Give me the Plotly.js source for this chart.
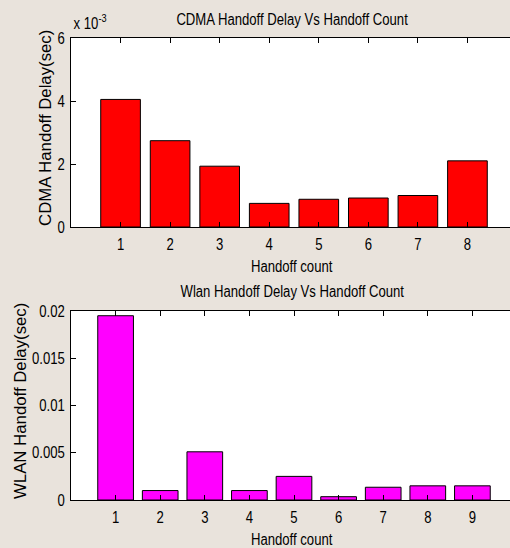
<!DOCTYPE html>
<html>
<head>
<meta charset="utf-8">
<script src="https://cdn.plot.ly/plotly-3.0.1.min.js"></script>
<style>
  html, body { margin: 0; padding: 0; overflow: hidden; background: #e9e3dc; }
  #chart { width: 520px; height: 548px; }
</style>
</head>
<body>
<div id="chart"></div>
<script>
// Handoff counts and measured delays (seconds)
const cdmaCount = [1, 2, 3, 4, 5, 6, 7, 8];
const cdmaDelay = [0.00405, 0.00274, 0.00193, 0.00075, 0.00088, 0.00092, 0.00100, 0.00210];

const wlanCount = [1, 2, 3, 4, 5, 6, 7, 8, 9];
const wlanDelay = [0.0195, 0.0010, 0.0051, 0.0010, 0.0025, 0.00035, 0.00135, 0.0015, 0.0015];

const cdmaYTicks = [0, 0.002, 0.004, 0.006];
const cdmaYLabels = ['0', '2', '4', '6'];
const wlanYTicks = [0, 0.005, 0.01, 0.015, 0.02];
const wlanYLabels = ['0', '0.005', '0.01', '0.015', '0.02'];

const FONT = '"Liberation Sans", Arial, sans-serif';

// figure geometry (pixels)
const W = 520, H = 548;
const M = { l: 71, r: 3, t: 38, b: 48 };
const plotW = W - M.l - M.r;
const plotH = H - M.t - M.b;
const px = x => (x - M.l) / plotW;
const py = y => (H - M.b - y) / plotH;

const axisBase = {
  showline: true, linecolor: '#000', linewidth: 1, mirror: 'ticks',
  ticks: 'inside', ticklen: 5, tickcolor: '#000', tickwidth: 1,
  showgrid: false, zeroline: false, fixedrange: true,
  tickfont: { family: FONT, size: 16, color: '#000' }
};

const traces = [
  {
    type: 'bar', x: cdmaCount, y: cdmaDelay, width: 0.8,
    marker: { color: '#ff0000', line: { color: '#000', width: 1 } },
    xaxis: 'x', yaxis: 'y', hoverinfo: 'x+y'
  },
  {
    type: 'bar', x: wlanCount, y: wlanDelay, width: 0.8,
    marker: { color: '#ff00ff', line: { color: '#000', width: 1 } },
    xaxis: 'x2', yaxis: 'y2', hoverinfo: 'x+y'
  }
];

const txt = (text, x, y, opts) => Object.assign({
  text, xref: 'paper', yref: 'paper', x: px(x), y: py(y),
  xanchor: 'center', yanchor: 'middle', showarrow: false,
  font: { family: FONT, size: 16, color: '#000' }
}, opts || {});

const layout = {
  width: W, height: H,
  margin: M,
  paper_bgcolor: '#e9e3dc',
  plot_bgcolor: '#ffffff',
  showlegend: false,
  xaxis: Object.assign({}, axisBase, {
    domain: [0, 1], anchor: 'y', range: [0, 9],
    tickvals: cdmaCount, ticklabelstandoff: 3
  }),
  yaxis: Object.assign({}, axisBase, {
    domain: [py(227), 1], anchor: 'x', range: [0, 0.006],
    tickvals: cdmaYTicks, ticktext: cdmaYLabels, ticklabelstandoff: 2
  }),
  xaxis2: Object.assign({}, axisBase, {
    domain: [0, 1], anchor: 'y2', range: [0, 10],
    tickvals: wlanCount, ticklabelstandoff: 3
  }),
  yaxis2: Object.assign({}, axisBase, {
    domain: [0, py(311)], anchor: 'x2', range: [0, 0.02],
    tickvals: wlanYTicks, ticktext: wlanYLabels, ticklabelstandoff: 2
  }),
  annotations: [
    txt('CDMA Handoff Delay Vs Handoff Count', 292.5, 19),
    txt('x 10<sup>-3</sup>', 68, 22, { xanchor: 'left' }),
    txt('Handoff count', 292, 266),
    txt('CDMA Handoff Delay(sec)', 45, 128.5, { textangle: -90 }),
    txt('Wlan Handoff Delay Vs Handoff Count', 292.5, 291),
    txt('Handoff count', 292, 539),
    txt('WLAN Handoff Delay(sec)', 20, 401.5, { textangle: -90 })
  ]
};

// Horizontal lettering is set condensed, vertical axis titles slightly spaced out
function fitText(el, factor) {
  let w = parseFloat(el.getAttribute('data-w'));
  if (!(w > 0)) {
    w = el.getComputedTextLength();
    if (!(w > 0)) return;
    el.setAttribute('data-w', w);
  }
  el.setAttribute('textLength', (w * factor).toFixed(2));
  el.setAttribute('lengthAdjust', 'spacingAndGlyphs');
}

function condense(gd) {
  gd.querySelectorAll('g.xtick > text, g.ytick > text, g.x2tick > text, g.y2tick > text')
    .forEach(t => fitText(t, 0.82));
  gd.querySelectorAll('g.annotation').forEach(g => {
    const t = g.querySelector('text.annotation-text');
    if (!t) return;
    const idx = +g.getAttribute('data-index');
    const a = layout.annotations[isNaN(idx) ? 0 : idx];
    fitText(t, a && a.textangle ? 1.048 : 0.82);
  });
}

const gd = document.getElementById('chart');
Plotly.newPlot(gd, traces, layout, { displayModeBar: false, staticPlot: true }).then(() => {
  condense(gd);
  setTimeout(() => condense(gd), 30);
});
gd.on && gd.on('plotly_afterplot', () => condense(gd));
</script>
</body>
</html>
